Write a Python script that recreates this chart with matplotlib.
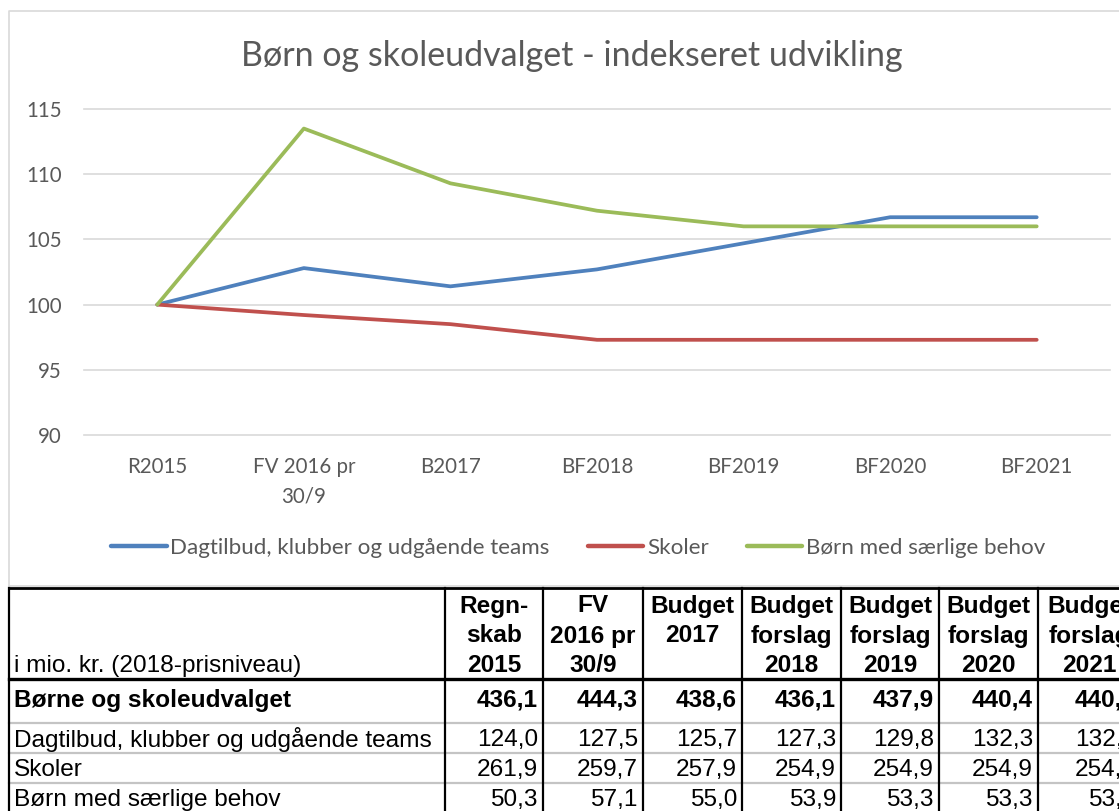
import matplotlib
matplotlib.use("Agg")
import matplotlib.pyplot as plt
from matplotlib.lines import Line2D

# ---------------- data ----------------
categories = ["R2015", "FV 2016 pr\n30/9", "B2017", "BF2018", "BF2019", "BF2020", "BF2021"]
series_names = ["Dagtilbud, klubber og udgående teams", "Skoler", "Børn med særlige behov"]
idx_dagtilbud = [100.0, 102.8, 101.4, 102.7, 104.7, 106.7, 106.7]
idx_skoler = [100.0, 99.2, 98.5, 97.3, 97.3, 97.3, 97.3]
idx_boern = [100.0, 113.5, 109.3, 107.2, 106.0, 106.0, 106.0]
y_ticks = [90, 95, 100, 105, 110, 115]
title = "Børn og skoleudvalget - indekseret udvikling"

table_unit_label = "i mio. kr. (2018-prisniveau)"
table_headers = [["Regn-", "skab", "2015"],
                 ["FV", "2016 pr", "30/9"],
                 ["Budget", "2017", ""],
                 ["Budget", "forslag", "2018"],
                 ["Budget", "forslag", "2019"],
                 ["Budget", "forslag", "2020"],
                 ["Budget", "forslag", "2021"]]
row_labels = ["Børne og skoleudvalget", "Dagtilbud, klubber og udgående teams",
              "Skoler", "Børn med særlige behov"]
row_total = ["436,1", "444,3", "438,6", "436,1", "437,9", "440,4", "440,4"]
row_dagtilbud = ["124,0", "127,5", "125,7", "127,3", "129,8", "132,3", "132,3"]
row_skoler = ["261,9", "259,7", "257,9", "254,9", "254,9", "254,9", "254,9"]
row_boern = ["50,3", "57,1", "55,0", "53,9", "53,3", "53,3", "53,3"]

# ---------------- style ----------------
W, H = 1119, 811
C_BLUE, C_RED, C_GREEN = "#4F81BD", "#C0504D", "#9BBB59"
TXT = "#595959"
GRID = "#D9D9D9"
CHART_FONT = ["Lato", "DejaVu Sans"]
TABLE_FONT = ["Liberation Sans", "DejaVu Sans"]
TFS = 17.6

fig = plt.figure(figsize=(W / 100, H / 100), dpi=100)
fig.patch.set_facecolor("white")

# overlay in pixel coordinates for chart frame & table
ov = fig.add_axes([0, 0, 1, 1], zorder=0)
ov.set_xlim(0, W)
ov.set_ylim(H, 0)
ov.axis("off")

# chart area frame
ov.plot([9, 9, 1140], [586, 11, 11], color=GRID, lw=1.2, clip_on=False)
ov.plot([9, 1140], [586, 586], color=GRID, lw=1.2, clip_on=False)

# ---------------- chart ----------------
ax = fig.add_axes([84 / W, 1 - 435 / H, (1110 - 84) / W, (435 - 109) / H], zorder=1)
ax.patch.set_alpha(0)
x = list(range(len(categories)))
for yt in y_ticks:
    ax.axhline(yt, color=GRID, lw=1.2, clip_on=False, zorder=0)
for vals, col, name in [(idx_dagtilbud, C_BLUE, series_names[0]),
                        (idx_skoler, C_RED, series_names[1]),
                        (idx_boern, C_GREEN, series_names[2])]:
    ax.plot(x, vals, color=col, lw=2.7, solid_capstyle="round",
            solid_joinstyle="round", label=name, zorder=3)
ax.set_xlim(-0.5, len(categories) - 0.5)
ax.set_ylim(y_ticks[0], y_ticks[-1])
ax.set_yticks(y_ticks)
ax.set_yticklabels([str(v) for v in y_ticks], family=CHART_FONT, fontsize=14.8, color=TXT)
ax.set_xticks(x)
ax.set_xticklabels(categories, family=CHART_FONT, fontsize=14.8, color=TXT, linespacing=1.6)
ax.tick_params(axis="y", length=0, pad=16)
ax.tick_params(axis="x", length=0, pad=16)
for s in ax.spines.values():
    s.set_visible(False)

fig.text(572 / W, 1 - 56 / H, title, ha="center", va="center",
         family=CHART_FONT, fontsize=24.5, color=TXT)

handles = [Line2D([], [], color=c, lw=3.2, solid_capstyle="round") for c in (C_BLUE, C_RED, C_GREEN)]
leg = fig.legend(handles, series_names, loc="center", bbox_to_anchor=(578 / W, 1 - 548 / H),
                 ncol=3, frameon=False, handlelength=2.5, handletextpad=0.15,
                 columnspacing=1.7, prop={"family": CHART_FONT, "size": 16.1})
for t in leg.get_texts():
    t.set_color(TXT)

# ---------------- table ----------------
col_edges = [9, 445, 543, 643, 742, 841, 939, 1038, 1141]
t_top, t_head_bot = 588, 679
row_lines = [723, 753, 783]
row_centers = [700, 740, 770, 800]
head_lines_y = [606, 636, 666]
BL = "black"

# gray row separators
for ry in row_lines:
    ov.plot([9, 1141], [ry, ry], color="#C4C4C4", lw=1.6, clip_on=False, zorder=2)
# thick horizontal lines
ov.plot([9, 1141], [t_top, t_top], color=BL, lw=2.0, clip_on=False, zorder=3)
ov.plot([9, 1141], [t_head_bot, t_head_bot], color=BL, lw=2.4, clip_on=False, zorder=3)
# vertical lines
for cx in col_edges:
    ov.plot([cx, cx], [t_top, H + 5], color=BL, lw=1.6, clip_on=False, zorder=3)

ov.text(14, head_lines_y[2], table_unit_label, ha="left", va="center",
        family=TABLE_FONT, fontsize=TFS, color="black")
for ci, hdr in enumerate(table_headers):
    cx = (col_edges[ci + 1] + col_edges[ci + 2]) / 2
    for li, line in enumerate(hdr):
        if line:
            ov.text(cx, head_lines_y[li], line, ha="center", va="center",
                    family=TABLE_FONT, fontsize=TFS, fontweight="bold", color="black")

rows = [row_total, row_dagtilbud, row_skoler, row_boern]
for ri, (lab, vals) in enumerate(zip(row_labels, rows)):
    fw = "bold" if ri == 0 else "normal"
    ov.text(14, row_centers[ri], lab, ha="left", va="center",
            family=TABLE_FONT, fontsize=TFS, fontweight=fw, color="black")
    for ci, v in enumerate(vals):
        rx = col_edges[ci + 2] - 5
        ov.text(rx, row_centers[ri], v, ha="right", va="center",
                family=TABLE_FONT, fontsize=TFS, fontweight=fw, color="black")

fig.savefig("out.png", dpi=100, facecolor="white")
